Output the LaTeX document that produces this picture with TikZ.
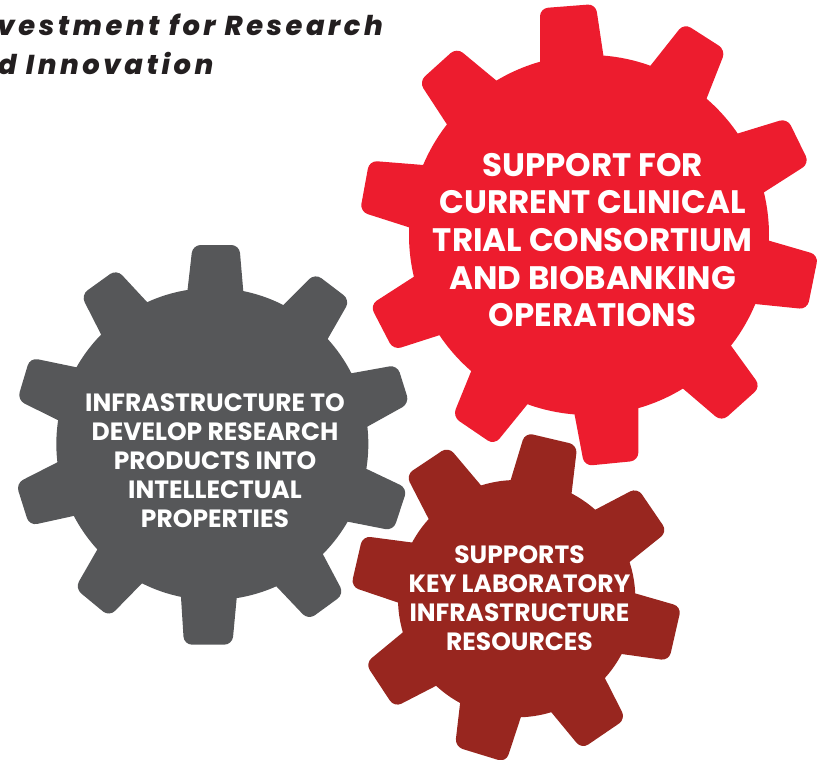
\documentclass[tikz,border=0pt]{standalone}
\usepackage{fontspec}
\setmainfont{Poppins}[BoldFont={Poppins Bold},BoldItalicFont={Poppins ExtraBold Italic}]
\usetikzlibrary{calc}
\definecolor{gearred}{HTML}{ED1C2E}
\definecolor{geargray}{HTML}{565759}
\definecolor{gearbrown}{HTML}{98261F}
\definecolor{titleink}{HTML}{231F20}
\newcommand{\gearshape}[5]{% color, cx, cy, r, teeth
  \fill[#1] (#2,#3) circle[radius=#4];
  \foreach \qa/\qb/\qc/\qd/\qe/\qf/\qg/\qh in {#5}{
    \fill[#1,rounded corners=8pt]
      ($(\qc,\qd)!1.3!(\qa,\qb)$) -- (\qc,\qd) -- (\qe,\qf) -- ($(\qe,\qf)!1.3!(\qg,\qh)$) -- cycle;
  }%
}
\tikzset{
  geartext/.style={text=white,align=center,inner sep=0pt},
  biglabel/.style={geartext,font=\fontsize{32.5}{37.6}\selectfont\bfseries},
  smalllabel/.style={geartext,font=\fontsize{25}{29}\selectfont\bfseries},
  titletext/.style={text=titleink,anchor=base west,inner sep=0pt,font=\fontsize{27.3}{39}\selectfont\addfontfeatures{LetterSpace=13}\bfseries\itshape}
}
\begin{document}
\begin{tikzpicture}[x=1pt,y=-1pt]
\useasboundingbox (0,0) rectangle (817,760);
% red gear
\begin{scope}[shift={(350,0)},scale=1/3]
\gearshape{gearred}{717}{705}{540}{
570/185/570/25/737/12/760/165,
903/195/1002/70/1127/150/1070/295,
1165/400/1312/355/1378/490/1245/575,
1257/722/1405/765/1372/928/1215/912,
1143/1037/1232/1160/1115/1265/998/1165,
865/1222/865/1382/703/1398/673/1240,
533/1212/433/1335/308/1250/365/1110,
270/1005/130/1050/60/915/192/830,
177/682/30/635/58/482/220/495,
290/372/207/245/320/143/437/240}
\end{scope}
% gray gear
\begin{scope}[shift={(0,240)},scale=1/3]
\gearshape{geargray}{637}{612}{468}{
562/155/578/15/718/15/730/155,
850/195/945/100/1050/180/983/297,
1053/400/1192/375/1228/490/1102/560,
1100/687/1222/745/1180/872/1043/845,
970/945/1032/1062/925/1140/830/1040,
710/1075/697/1214/552/1214/543/1072,
423/1033/328/1130/225/1045/290/932,
220/828/88/857/48/730/170/668,
173/540/52/480/90/353/230/382,
303/283/243/165/350/88/442/187}
\end{scope}
% brown gear
\begin{scope}[shift={(340,430)},scale=1/3]
\gearshape{gearbrown}{530}{506}{356}{
512/150/555/8/712/45/695/188,
768/238/892/173/982/305/870/395,
885/490/1024/530/987/692/845/672,
795/745/857/867/725/957/635/848,
543/860/498/997/345/950/360/822,
287/768/163/832/76/700/185/610,
175/518/33/470/68/318/212/337,
265/265/198/135/325/50/422/165}
\end{scope}
\node[biglabel] (redlabel) at (592.5,240) {SUPPORT FOR\\CURRENT CLINICAL\\TRIAL CONSORTIUM\\AND BIOBANKING\\OPERATIONS};
\node[smalllabel] (graylabel) at (215,461) {INFRASTRUCTURE TO\\DEVELOP RESEARCH\\PRODUCTS INTO\\INTELLECTUAL\\PROPERTIES};
\node[smalllabel] (brownlabel) at (519.5,598) {SUPPORTS\\KEY LABORATORY\\INFRASTRUCTURE\\RESOURCES};
\node[titletext] (title1) at (-3,36) {vestment for Research};
\node[titletext] (title2) at (-2,75) {d Innovation};
\end{tikzpicture}
\end{document}
